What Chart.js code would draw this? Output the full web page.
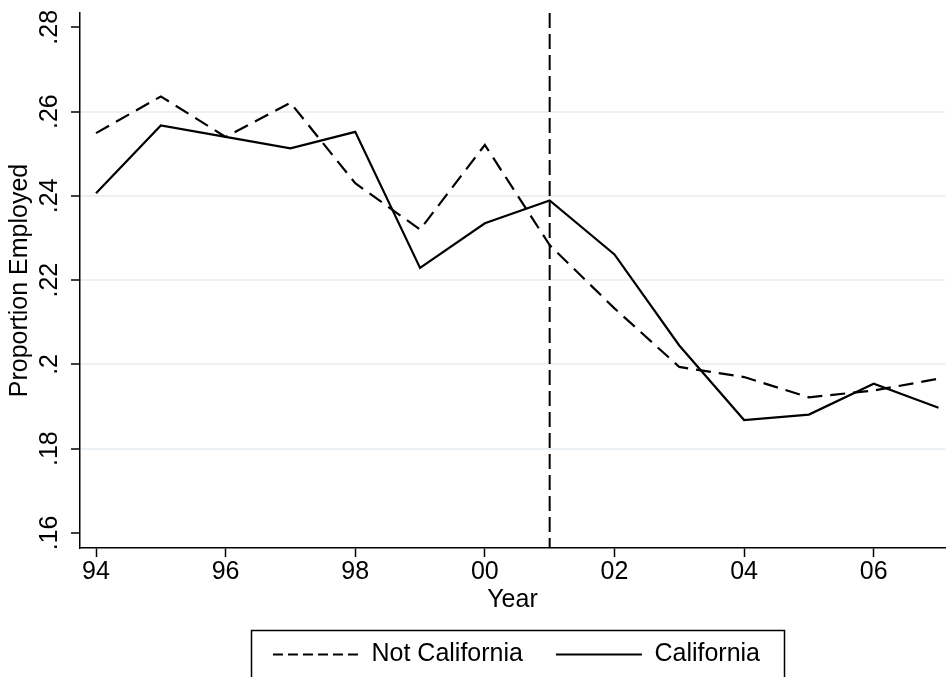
<!DOCTYPE html>
<html>
<head>
<meta charset="utf-8">
<script src="https://cdn.jsdelivr.net/npm/chart.js@4/dist/chart.umd.min.js"></script>
<style>
  html, body { margin: 0; padding: 0; background: #fff; }
  #wrap { width: 946px; height: 677px; }
</style>
</head>
<body>
<div id="wrap"><canvas id="c" width="946" height="677"></canvas></div>
<script>
// ---- data ----
const years = [94, 95, 96, 97, 98, 99, 100, 101, 102, 103, 104, 105, 106, 107];
const notCalifornia = [0.2549, 0.2636, 0.2540, 0.2621, 0.2430, 0.2320, 0.2521, 0.2283, 0.2133, 0.1994, 0.1970, 0.1922, 0.1938, 0.1966];
const california    = [0.2406, 0.2567, 0.2540, 0.2513, 0.2552, 0.2229, 0.2335, 0.2389, 0.2261, 0.2045, 0.1868, 0.1881, 0.1954, 0.1897];
const xTicks = [94, 96, 98, 100, 102, 104, 106];
const xTickLabels = ['94', '96', '98', '00', '02', '04', '06'];
const yTicks = [0.16, 0.18, 0.20, 0.22, 0.24, 0.26, 0.28];
const yTickLabels = ['.16', '.18', '.2', '.22', '.24', '.26', '.28'];
const treatmentYear = 101;
const seriesNames = ['Not California', 'California'];

const FONT = '"Liberation Sans", Arial, Helvetica, sans-serif';
const FS = 25;
const LEG_PAD = 33;

const toPts = (vals) => years.map((y, i) => ({ x: y, y: vals[i] }));

const extras = {
  id: 'extras',
  afterLayout(chart) {
    const lg = chart.legend;
    if (lg) { lg.left += 44; lg.right += 44; }
  },
  afterDatasetsDraw(chart) {
    const { ctx, chartArea, scales } = chart;
    const px = scales.x.getPixelForValue(treatmentYear);
    ctx.save();
    ctx.strokeStyle = '#000';
    ctx.lineWidth = 2;
    ctx.setLineDash([15, 6]);
    ctx.beginPath();
    ctx.moveTo(px, chartArea.top);
    ctx.lineTo(px, chartArea.bottom);
    ctx.stroke();
    ctx.restore();
  },
  afterDraw(chart) {
    const { ctx, scales } = chart;
    // rotated y tick labels
    ctx.save();
    ctx.font = FS + 'px ' + FONT;
    ctx.fillStyle = '#000';
    ctx.textAlign = 'center';
    ctx.textBaseline = 'middle';
    yTicks.forEach((v, i) => {
      const py = scales.y.getPixelForValue(v);
      ctx.save();
      ctx.translate(50, py);
      ctx.rotate(-Math.PI / 2);
      ctx.fillText(yTickLabels[i], 0, 0);
      ctx.restore();
    });
    ctx.restore();
    // legend frame
    const hb = chart.legend && chart.legend.legendHitBoxes;
    if (hb && hb.length) {
      const first = hb[0], last = hb[hb.length - 1];
      const left = first.left - 22;
      const right = last.left + last.width + 24;
      const cy = first.top + first.height / 2;
      ctx.save();
      ctx.strokeStyle = '#000';
      ctx.lineWidth = 1.5;
      ctx.strokeRect(Math.round(left) + 0.5, Math.round(cy - 25) + 0.5, Math.round(right - left), 70);
      ctx.restore();
    }
  }
};

new Chart(document.getElementById('c'), {
  type: 'line',
  data: {
    datasets: [
      {
        label: seriesNames[0],
        data: toPts(notCalifornia),
        borderColor: '#000',
        backgroundColor: '#000',
        borderWidth: 2.2,
        borderDash: [15, 8],
        pointRadius: 0,
        tension: 0,
        fill: false
      },
      {
        label: seriesNames[1],
        data: toPts(california),
        borderColor: '#000',
        backgroundColor: '#000',
        borderWidth: 2.2,
        pointRadius: 0,
        tension: 0,
        fill: false
      }
    ]
  },
  options: {
    responsive: false,
    animation: false,
    events: [],
    layout: { padding: { top: 13, right: 1, bottom: 0, left: 0 } },
    plugins: {
      tooltip: { enabled: false },
      legend: {
        display: true,
        position: 'bottom',
        align: 'center',
        labels: {
          usePointStyle: true,
          pointStyle: 'line',
          pointStyleWidth: 86,
          padding: LEG_PAD,
          color: '#000',
          font: { family: FONT, size: FS },
          generateLabels: (chart) => {
            const items = Chart.defaults.plugins.legend.labels.generateLabels(chart);
            return items.map((it) => {
              const ds = chart.data.datasets[it.datasetIndex];
              it.lineDash = ds.borderDash ? [10, 5] : [];
              it.lineWidth = 2;
              it.strokeStyle = '#000';
              it.fillStyle = '#000';
              it.pointStyle = 'line';
              return it;
            });
          }
        }
      }
    },
    scales: {
      x: {
        type: 'linear',
        min: 93.753,
        max: 107.1,
        afterBuildTicks: (s) => { s.ticks = xTicks.map(v => ({ value: v })); },
        afterFit: (s) => { s.height = 94 - LEG_PAD; },
        ticks: {
          autoSkip: false,
          maxRotation: 0,
          padding: 0,
          color: '#000',
          font: { family: FONT, size: FS },
          callback: (v) => xTickLabels[xTicks.indexOf(v)]
        },
        grid: {
          drawOnChartArea: false,
          drawTicks: true,
          tickLength: 9,
          tickWidth: 1.5,
          tickColor: '#000',
          color: '#000'
        },
        border: { display: true, color: '#000', width: 1.5 },
        title: {
          display: true,
          text: 'Year',
          color: '#000',
          font: { family: FONT, size: FS },
          padding: { top: 0, bottom: 27 - LEG_PAD }
        }
      },
      y: {
        type: 'linear',
        min: 0.15643,
        max: 0.2834,
        afterBuildTicks: (s) => { s.ticks = yTicks.map(v => ({ value: v })); },
        afterFit: (s) => { s.width = 80; },
        ticks: { display: false },
        grid: {
          drawTicks: true,
          tickLength: 9,
          tickWidth: 1.5,
          tickColor: '#000',
          lineWidth: 2,
          color: (c) => {
            const v = c.tick && c.tick.value;
            if (v === undefined) return 'rgba(0,0,0,0)';
            return (Math.abs(v - 0.16) < 1e-6 || Math.abs(v - 0.28) < 1e-6) ? 'rgba(0,0,0,0)' : '#eaf0f3';
          }
        },
        border: { display: true, color: '#000', width: 1.5 },
        title: {
          display: true,
          text: 'Proportion Employed',
          color: '#000',
          font: { family: FONT, size: FS },
          padding: { top: 5, bottom: 0 }
        }
      }
    }
  },
  plugins: [extras]
});
</script>
</body>
</html>
